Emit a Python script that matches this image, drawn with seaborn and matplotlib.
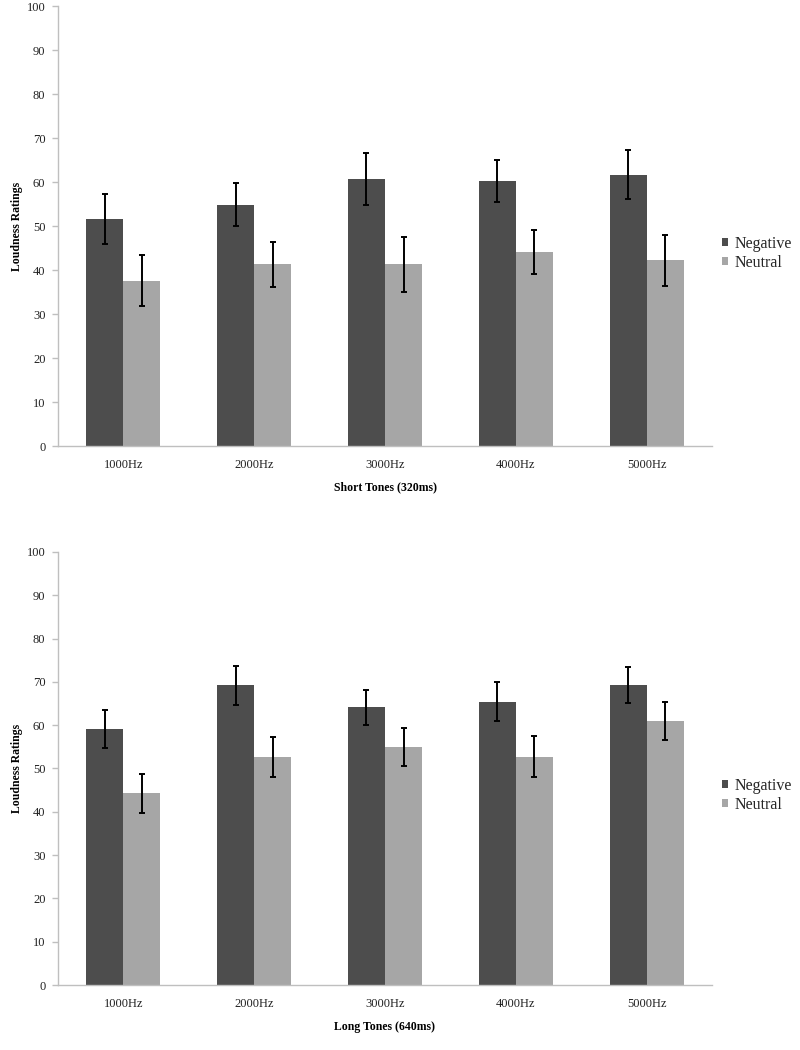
import matplotlib
matplotlib.use("Agg")
import matplotlib.pyplot as plt
import seaborn as sns
import pandas as pd

# ---- data ----
freqs = ["1000Hz", "2000Hz", "3000Hz", "4000Hz", "5000Hz"]
conditions = ["Negative", "Neutral"]

short_negative = [51.6, 54.9, 60.7, 60.3, 61.7]
short_negative_err = [5.6, 4.9, 6.0, 4.8, 5.5]
short_neutral = [37.6, 41.3, 41.3, 44.0, 42.2]
short_neutral_err = [5.8, 5.1, 6.2, 5.0, 5.8]

long_negative = [59.1, 69.2, 64.1, 65.4, 69.2]
long_negative_err = [4.3, 4.5, 4.1, 4.5, 4.15]
long_neutral = [44.3, 52.7, 54.9, 52.7, 60.9]
long_neutral_err = [4.5, 4.65, 4.4, 4.7, 4.4]

xlabels = ["Short Tones (320ms)", "Long Tones (640ms)"]
ylabel = "Loudness Ratings"
yticks = list(range(0, 101, 10))

colors = {"Negative": "#4d4d4d", "Neutral": "#a6a6a6"}

sns.set_style("white")
plt.rcParams["font.family"] = ["Liberation Serif", "DejaVu Serif"]

fig = plt.figure(figsize=(8, 10.5), dpi=100)
ax_top = fig.add_axes([0.0725, 0.5752, 0.8175, 0.419])
ax_bot = fig.add_axes([0.0725, 0.0619, 0.8175, 0.4124])

panels = [
    (ax_top, short_negative, short_negative_err, short_neutral, short_neutral_err, xlabels[0]),
    (ax_bot, long_negative, long_negative_err, long_neutral, long_neutral_err, xlabels[1]),
]

spine_col = "#bfbfbf"
text_col = "#222222"

for ax, neg, neg_err, neu, neu_err, xl in panels:
    df = pd.DataFrame({
        "freq": freqs * 2,
        "cond": ["Negative"] * len(freqs) + ["Neutral"] * len(freqs),
        "value": neg + neu,
    })
    sns.barplot(data=df, x="freq", y="value", hue="cond", order=freqs,
                hue_order=conditions, palette=colors, width=0.567,
                linewidth=0, errorbar=None, ax=ax, saturation=1)
    errs = {"Negative": neg_err, "Neutral": neu_err}
    for cont, cond in zip(ax.containers, conditions):
        xs = [b.get_x() + b.get_width() / 2 for b in cont]
        ys = [b.get_height() for b in cont]
        ax.errorbar(xs, ys, yerr=errs[cond], fmt="none", ecolor="black",
                    elinewidth=1.4, capsize=2, capthick=1.4)

    ax.set_ylim(0, 100)
    ax.set_xlim(-0.5, len(freqs) - 0.5)
    ax.set_yticks(yticks)
    ax.set_yticklabels([str(t) for t in yticks], fontsize=9, color=text_col)
    ax.set_xticks(range(len(freqs)))
    ax.set_xticklabels(freqs, fontsize=9, color=text_col)
    ax.set_xticks([i - 0.5 for i in range(len(freqs) + 1)], minor=True)
    ax.tick_params(axis="x", which="major", length=0, pad=9)
    ax.tick_params(axis="x", which="minor", length=4, width=1, color=spine_col, direction="out")
    ax.tick_params(axis="y", which="major", length=4, width=1, color=spine_col, direction="out", pad=5, left=True)

    ax.set_xlabel(xl, fontsize=8.5, fontweight="bold", color="black", labelpad=8)
    ax.set_ylabel(ylabel, fontsize=8.5, fontweight="bold", color="black", labelpad=3)

    for s in ["top", "right"]:
        ax.spines[s].set_visible(False)
    for s in ["left", "bottom"]:
        ax.spines[s].set_color(spine_col)
        ax.spines[s].set_linewidth(1)

    sns.move_legend(ax, "center left", bbox_to_anchor=(1.015, 0.4375), frameon=False,
                    title=None, fontsize=11.5, handlelength=0.4, handleheight=0.4,
                    handletextpad=0.4, labelspacing=0.2, borderpad=0, borderaxespad=0)

fig.savefig("out.png", dpi=100, facecolor="white")
